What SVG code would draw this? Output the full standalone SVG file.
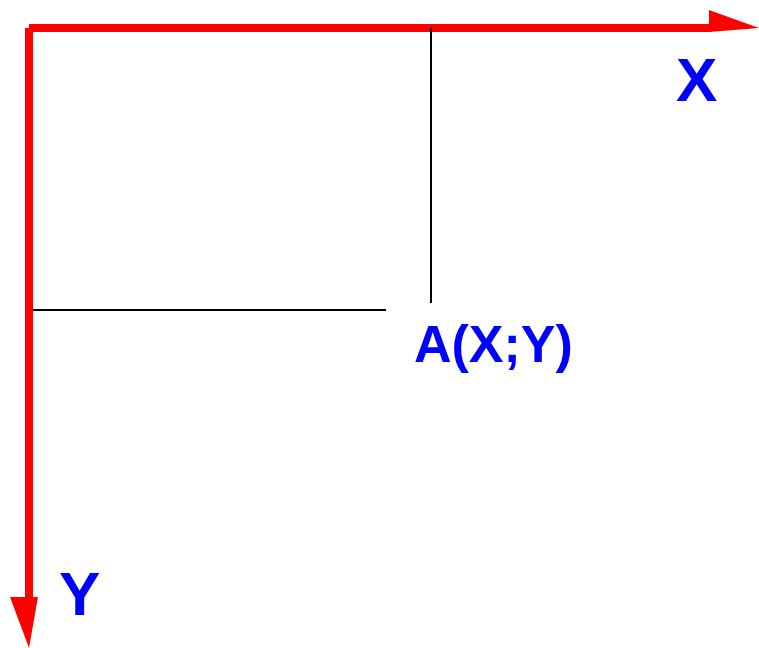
<svg xmlns="http://www.w3.org/2000/svg" width="759" height="648" viewBox="0 0 759 648">
<style>
.axis{fill:#ff0000;stroke:none}
.guide{stroke:#000;stroke-width:2;fill:none}
.lbl{fill:#0000ff;font-family:"Liberation Sans",Arial,sans-serif;font-weight:bold}
</style>
<rect width="759" height="648" fill="#fff"/>
<g id="connectors">
<g id="x-axis">
<rect class="axis" x="29" y="24" width="682" height="8"/>
<polygon class="axis" points="709,10 759,28 709,32"/>
</g>
<g id="y-axis">
<rect class="axis" x="25" y="28" width="8" height="571"/>
<polygon class="axis" points="10,597 38,597 29,648"/>
</g>
<line class="guide" x1="431" y1="28" x2="431" y2="303"/>
<line class="guide" x1="33" y1="310" x2="386" y2="310"/>
</g>
<g id="label-x"><text class="lbl" x="676" y="101" font-size="62">X</text></g>
<g id="label-y"><text class="lbl" x="59" y="615" font-size="62">Y</text></g>
<g id="point-a"><text class="lbl" x="414" y="362" font-size="52">A(X;Y)</text></g>
</svg>
